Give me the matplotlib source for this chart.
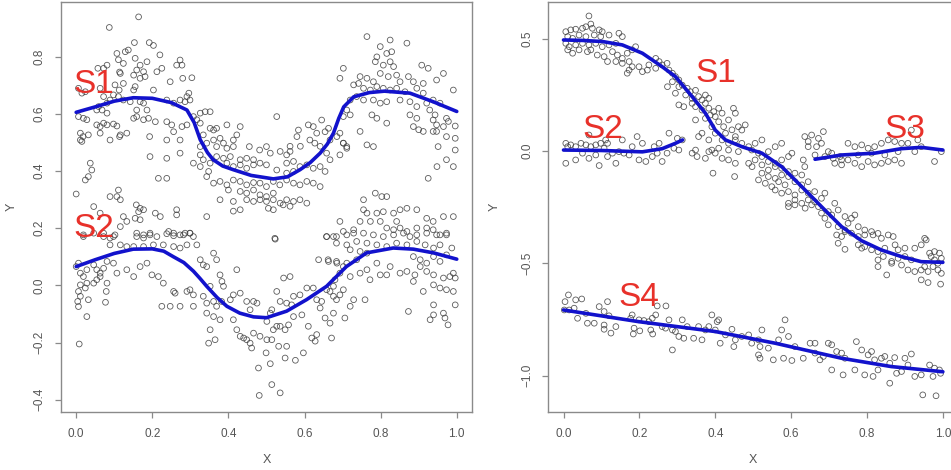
import numpy as np
import matplotlib
matplotlib.use("Agg")
import matplotlib.pyplot as plt

plt.rcParams['font.family'] = ['Liberation Sans', 'DejaVu Sans']

left_s1_pts = [
    (0.164, 0.94), (0.087, 0.903), (0.153, 0.85), (0.192, 0.85), (0.203, 0.84), (0.107, 0.812), (0.129, 0.818),
    (0.137, 0.824), (0.22, 0.807), (0.111, 0.79), (0.124, 0.777), (0.155, 0.795), (0.168, 0.771), (0.186, 0.783),
    (0.273, 0.789), (0.278, 0.771), (0.081, 0.771), (0.072, 0.76), (0.057, 0.76), (0.114, 0.747), (0.116, 0.742),
    (0.159, 0.754), (0.177, 0.748), (0.181, 0.731), (0.212, 0.748), (0.225, 0.76), (0.151, 0.736), (0.168, 0.725),
    (0.264, 0.771), (0.28, 0.725), (0.304, 0.727), (0.124, 0.707), (0.102, 0.702), (0.113, 0.684), (0.203, 0.684),
    (0.006, 0.69), (0.015, 0.673), (0.024, 0.678), (0.063, 0.69), (0.072, 0.661), (0.155, 0.696), (0.151, 0.684),
    (0.247, 0.713), (0.296, 0.673), (0.299, 0.649), (0.291, 0.661), (0.098, 0.667), (0.111, 0.661), (0.089, 0.649),
    (0.081, 0.638), (0.124, 0.649), (0.142, 0.643), (0.168, 0.643), (0.177, 0.638), (0.059, 0.626), (0.068, 0.614),
    (0.081, 0.603), (0.238, 0.649), (0.256, 0.638), (0.273, 0.649), (0.286, 0.643), (0.054, 0.614), (0.159, 0.614),
    (0.186, 0.614), (0.326, 0.603), (0.339, 0.608), (0.352, 0.608), (0.006, 0.591), (0.019, 0.585), (0.028, 0.58),
    (0.151, 0.585), (0.159, 0.591), (0.177, 0.58), (0.19, 0.585), (0.208, 0.573), (0.238, 0.573), (0.251, 0.562),
    (0.308, 0.591), (0.317, 0.58), (0.326, 0.568), (0.054, 0.562), (0.063, 0.556), (0.072, 0.568), (0.081, 0.562),
    (0.098, 0.565), (0.107, 0.558), (0.278, 0.556), (0.291, 0.562), (0.011, 0.533), (0.018, 0.521), (0.032, 0.527),
    (0.116, 0.527), (0.133, 0.533), (0.063, 0.533), (0.256, 0.538), (0.238, 0.509), (0.273, 0.509), (0.011, 0.509),
    (0.015, 0.504), (0.089, 0.509), (0.114, 0.521), (0.193, 0.521), (0.352, 0.55), (0.361, 0.544), (0.369, 0.55),
    (0.396, 0.562), (0.431, 0.556), (0.527, 0.591), (0.584, 0.544), (0.61, 0.562), (0.623, 0.556), (0.645, 0.579),
    (0.663, 0.55), (0.632, 0.533), (0.654, 0.538), (0.58, 0.521), (0.562, 0.487), (0.589, 0.487), (0.614, 0.509),
    (0.627, 0.498), (0.641, 0.487), (0.667, 0.509), (0.685, 0.521), (0.693, 0.533), (0.702, 0.498), (0.711, 0.486),
    (0.693, 0.457), (0.658, 0.463), (0.667, 0.44), (0.334, 0.527), (0.343, 0.498), (0.326, 0.486), (0.361, 0.509),
    (0.378, 0.515), (0.369, 0.486), (0.387, 0.498), (0.396, 0.48), (0.413, 0.486), (0.422, 0.527), (0.413, 0.509),
    (0.455, 0.486), (0.482, 0.474), (0.5, 0.486), (0.51, 0.463), (0.536, 0.469), (0.553, 0.457), (0.562, 0.469),
    (0.326, 0.457), (0.334, 0.44), (0.352, 0.428), (0.369, 0.451), (0.387, 0.445), (0.405, 0.451), (0.431, 0.44),
    (0.448, 0.445), (0.466, 0.44), (0.273, 0.463), (0.238, 0.445), (0.194, 0.451), (0.308, 0.428), (0.326, 0.416),
    (0.348, 0.399), (0.396, 0.428), (0.413, 0.416), (0.431, 0.422), (0.448, 0.41), (0.466, 0.422), (0.483, 0.428),
    (0.5, 0.422), (0.553, 0.428), (0.571, 0.434), (0.588, 0.416), (0.606, 0.422), (0.623, 0.41), (0.641, 0.416),
    (0.654, 0.399), (0.527, 0.404), (0.553, 0.393), (0.571, 0.399), (0.037, 0.428), (0.041, 0.404), (0.032, 0.381),
    (0.024, 0.369), (0.238, 0.375), (0.343, 0.381), (0.361, 0.358), (0.378, 0.364), (0.396, 0.352), (0.413, 0.369),
    (0.431, 0.364), (0.448, 0.352), (0.466, 0.36), (0.483, 0.358), (0.5, 0.346), (0.518, 0.364), (0.535, 0.352),
    (0.553, 0.369), (0.571, 0.358), (0.588, 0.352), (0.606, 0.364), (0.623, 0.358), (0.641, 0.346), (0.4, 0.334),
    (0.431, 0.329), (0.448, 0.323), (0.466, 0.334), (0.483, 0.317), (0.5, 0.311), (0.518, 0.323), (0.378, 0.3),
    (0.413, 0.294), (0.448, 0.3), (0.466, 0.294), (0.483, 0.3), (0.5, 0.294), (0.518, 0.3), (0.536, 0.288),
    (0.553, 0.3), (0.571, 0.294), (0.588, 0.3), (0.606, 0.288), (0.413, 0.26), (0.431, 0.265), (0.505, 0.27),
    (0.518, 0.265), (0.544, 0.282), (0.562, 0.277), (0.0, 0.32), (0.216, 0.375),
    (0.764, 0.871), (0.799, 0.836), (0.825, 0.859), (0.79, 0.8), (0.816, 0.812), (0.829, 0.818), (0.869, 0.848),
    (0.908, 0.771), (0.925, 0.76), (0.786, 0.783), (0.807, 0.771), (0.825, 0.783), (0.834, 0.766), (0.702, 0.76),
    (0.693, 0.725), (0.746, 0.731), (0.764, 0.725), (0.781, 0.713), (0.799, 0.742), (0.82, 0.731), (0.842, 0.736),
    (0.851, 0.713), (0.873, 0.731), (0.886, 0.713), (0.912, 0.707), (0.947, 0.719), (0.965, 0.742), (0.729, 0.702),
    (0.742, 0.707), (0.755, 0.69), (0.773, 0.684), (0.79, 0.696), (0.807, 0.69), (0.825, 0.684), (0.842, 0.69),
    (0.864, 0.678), (0.895, 0.69), (0.912, 0.673), (0.991, 0.684), (0.72, 0.649), (0.737, 0.661), (0.755, 0.649),
    (0.781, 0.649), (0.799, 0.638), (0.816, 0.643), (0.851, 0.649), (0.877, 0.643), (0.895, 0.626), (0.921, 0.638),
    (0.938, 0.649), (0.956, 0.638), (0.711, 0.614), (0.702, 0.591), (0.72, 0.597), (0.777, 0.597), (0.79, 0.585),
    (0.929, 0.614), (0.943, 0.597), (0.938, 0.579), (0.895, 0.585), (0.877, 0.597), (0.973, 0.585), (0.947, 0.562),
    (0.965, 0.556), (0.978, 0.574), (0.816, 0.568), (0.886, 0.556), (0.9, 0.545), (0.912, 0.539), (0.938, 0.539),
    (0.947, 0.539), (0.996, 0.558), (0.996, 0.515), (0.973, 0.521), (0.996, 0.474), (0.973, 0.44), (0.991, 0.416),
    (0.951, 0.486), (0.948, 0.416), (0.925, 0.375), (0.746, 0.539), (0.764, 0.492), (0.781, 0.486), (0.711, 0.48),
    (0.702, 0.498),
]

left_s2_pts = [
    (0.111, 0.334), (0.089, 0.311), (0.107, 0.311), (0.116, 0.3), (0.158, 0.282), (0.168, 0.27), (0.177, 0.265),
    (0.164, 0.258), (0.208, 0.253), (0.221, 0.241), (0.264, 0.265), (0.264, 0.247), (0.155, 0.235), (0.168, 0.23),
    (0.046, 0.276), (0.063, 0.253), (0.124, 0.241), (0.133, 0.224), (0.116, 0.206), (0.343, 0.241), (0.755, 0.3),
    (0.786, 0.323), (0.803, 0.311), (0.816, 0.311), (0.755, 0.265), (0.764, 0.253), (0.79, 0.253), (0.807, 0.258),
    (0.834, 0.253), (0.851, 0.265), (0.869, 0.27), (0.895, 0.265), (0.693, 0.224), (0.746, 0.224), (0.773, 0.224),
    (0.799, 0.224), (0.842, 0.224), (0.921, 0.235), (0.938, 0.224), (0.965, 0.241), (0.991, 0.241), (0.658, 0.171),
    (0.676, 0.171), (0.702, 0.189), (0.729, 0.195), (0.755, 0.183), (0.816, 0.201), (0.834, 0.195), (0.851, 0.201),
    (0.869, 0.189), (0.895, 0.201), (0.921, 0.201), (0.938, 0.195), (0.956, 0.177), (0.973, 0.183), (0.159, 0.183),
    (0.177, 0.177), (0.194, 0.183), (0.243, 0.189), (0.256, 0.183), (0.273, 0.177), (0.286, 0.183), (0.299, 0.183),
    (0.072, 0.183), (0.098, 0.171), (0.019, 0.177), (0.522, 0.165), (0.159, 0.171), (0.177, 0.166), (0.194, 0.177),
    (0.212, 0.171), (0.238, 0.181), (0.256, 0.174), (0.282, 0.177), (0.299, 0.183), (0.308, 0.171), (0.019, 0.171),
    (0.046, 0.183), (0.072, 0.171), (0.089, 0.166), (0.102, 0.177), (0.089, 0.142), (0.116, 0.142), (0.133, 0.136),
    (0.151, 0.136), (0.177, 0.136), (0.203, 0.142), (0.229, 0.142), (0.256, 0.136), (0.273, 0.131), (0.291, 0.142),
    (0.317, 0.142), (0.658, 0.171), (0.684, 0.171), (0.711, 0.177), (0.729, 0.183), (0.781, 0.177), (0.807, 0.171),
    (0.834, 0.177), (0.86, 0.183), (0.877, 0.171), (0.895, 0.177), (0.921, 0.183), (0.947, 0.177), (0.973, 0.177),
    (0.684, 0.148), (0.711, 0.142), (0.737, 0.154), (0.764, 0.148), (0.79, 0.142), (0.816, 0.136), (0.842, 0.148),
    (0.869, 0.142), (0.895, 0.154), (0.917, 0.142), (0.939, 0.131), (0.956, 0.142), (0.987, 0.131), (0.523, 0.162),
    (0.72, 0.125), (0.746, 0.119), (0.764, 0.113), (0.886, 0.101), (0.904, 0.09), (0.921, 0.078), (0.939, 0.101),
    (0.956, 0.084), (0.973, 0.107), (0.662, 0.09), (0.684, 0.084), (0.711, 0.078), (0.737, 0.09), (0.79, 0.078),
    (0.825, 0.066), (0.851, 0.043), (0.869, 0.049), (0.89, 0.037), (0.764, 0.055), (0.799, 0.037), (0.816, 0.037),
    (0.772, 0.02), (0.904, 0.066), (0.921, 0.049), (0.939, 0.037), (0.965, 0.026), (0.982, 0.031), (0.991, 0.043),
    (0.996, 0.026), (0.886, 0.014), (0.912, -0.021), (0.939, 0.002), (0.956, -0.009), (0.973, -0.015),
    (0.991, -0.021), (0.996, -0.068), (0.939, -0.068), (0.93, -0.12), (0.939, -0.103), (0.965, -0.097),
    (0.969, -0.114), (0.977, -0.138), (0.873, -0.091), (0.759, -0.05), (0.0, 0.066), (0.006, 0.078), (0.011, 0.043),
    (0.019, 0.031), (0.028, 0.055), (0.046, 0.072), (0.054, 0.055), (0.063, 0.043), (0.072, 0.06), (0.081, 0.084),
    (0.098, 0.078), (0.107, 0.043), (0.063, 0.031), (0.054, 0.02), (0.028, 0.008), (0.011, 0.002), (0.046, 0.008),
    (0.006, -0.021), (0.011, -0.038), (0.024, -0.009), (0.032, -0.05), (0.004, -0.056), (0.006, -0.074),
    (0.028, -0.109), (0.081, 0.008), (0.079, -0.021), (0.077, -0.059), (0.008, -0.205), (0.151, 0.031),
    (0.133, 0.055), (0.168, 0.066), (0.186, 0.078), (0.199, 0.037), (0.216, 0.031), (0.229, 0.008), (0.256, -0.021),
    (0.26, -0.027), (0.291, -0.021), (0.299, -0.015), (0.308, -0.033), (0.225, -0.073), (0.247, -0.073),
    (0.273, -0.073), (0.308, -0.073), (0.326, 0.09), (0.334, 0.072), (0.343, 0.066), (0.369, 0.09), (0.361, 0.113),
    (0.378, 0.037), (0.383, 0.014), (0.387, -0.003), (0.352, -0.003), (0.334, -0.038), (0.343, -0.062),
    (0.361, -0.056), (0.369, -0.073), (0.382, -0.056), (0.405, -0.05), (0.413, -0.033), (0.343, -0.097),
    (0.361, -0.109), (0.378, -0.12), (0.352, -0.155), (0.365, -0.19), (0.348, -0.202), (0.422, 0.055),
    (0.431, -0.027), (0.448, -0.056), (0.457, -0.085), (0.466, -0.056), (0.475, -0.062), (0.413, -0.12),
    (0.422, -0.155), (0.431, -0.178), (0.44, -0.184), (0.448, -0.19), (0.457, -0.202), (0.461, -0.219),
    (0.466, -0.167), (0.483, -0.178), (0.501, -0.19), (0.514, -0.19), (0.518, -0.155), (0.527, -0.143),
    (0.501, -0.126), (0.51, -0.097), (0.514, -0.085), (0.479, -0.289), (0.481, -0.385), (0.499, -0.236),
    (0.51, -0.274), (0.514, -0.347), (0.536, -0.376), (0.532, -0.213), (0.549, -0.254), (0.576, -0.262),
    (0.553, -0.213), (0.536, -0.143), (0.549, -0.155), (0.558, -0.138), (0.571, -0.109), (0.527, -0.021),
    (0.545, 0.026), (0.562, 0.031), (0.536, -0.056), (0.553, -0.062), (0.566, -0.068), (0.571, -0.038),
    (0.588, -0.033), (0.593, -0.103), (0.61, -0.143), (0.619, -0.184), (0.628, -0.195), (0.632, -0.172),
    (0.597, -0.236), (0.606, -0.009), (0.623, -0.009), (0.632, -0.05), (0.645, -0.056), (0.658, -0.015),
    (0.667, -0.021), (0.641, -0.079), (0.654, -0.114), (0.667, -0.132), (0.676, -0.097), (0.671, -0.184),
    (0.706, -0.114), (0.72, -0.073), (0.729, -0.05), (0.676, -0.038), (0.684, -0.05), (0.693, -0.033),
    (0.702, -0.015), (0.676, -0.003), (0.68, 0.02), (0.637, 0.09), (0.663, 0.084), (0.685, 0.078), (0.702, 0.066),
    (0.693, 0.043), (0.72, 0.031), (0.746, 0.043),
]

# ---- right panel: observed points ----
right_s1_pts = [
    (0.067, 0.601), (0.006, 0.531), (0.019, 0.539), (0.032, 0.542), (0.05, 0.546), (0.059, 0.553), (0.072, 0.565),
    (0.076, 0.546), (0.094, 0.539), (0.102, 0.531), (0.011, 0.509), (0.024, 0.501), (0.041, 0.516), (0.059, 0.509),
    (0.081, 0.516), (0.098, 0.509), (0.12, 0.516), (0.146, 0.524), (0.155, 0.509), (0.006, 0.479), (0.015, 0.464),
    (0.032, 0.472), (0.05, 0.479), (0.067, 0.472), (0.085, 0.479), (0.102, 0.464), (0.12, 0.472), (0.138, 0.479),
    (0.011, 0.45), (0.024, 0.435), (0.041, 0.45), (0.063, 0.442), (0.072, 0.45), (0.089, 0.427), (0.107, 0.42),
    (0.129, 0.442), (0.142, 0.427), (0.155, 0.412), (0.168, 0.435), (0.181, 0.45), (0.19, 0.464), (0.116, 0.398),
    (0.138, 0.398), (0.155, 0.39), (0.173, 0.398), (0.181, 0.375), (0.168, 0.346), (0.173, 0.36), (0.199, 0.375),
    (0.208, 0.353), (0.221, 0.36), (0.225, 0.383), (0.243, 0.412), (0.252, 0.398), (0.26, 0.383), (0.273, 0.39),
    (0.243, 0.368), (0.278, 0.36), (0.287, 0.346), (0.295, 0.331), (0.304, 0.316), (0.287, 0.308), (0.274, 0.286),
    (0.304, 0.286), (0.313, 0.293), (0.326, 0.279), (0.334, 0.264), (0.348, 0.27), (0.295, 0.257), (0.322, 0.249),
    (0.339, 0.234), (0.356, 0.242), (0.374, 0.249), (0.383, 0.234), (0.365, 0.227), (0.304, 0.205), (0.317, 0.197),
    (0.339, 0.212), (0.348, 0.197), (0.374, 0.212), (0.365, 0.182), (0.383, 0.19), (0.396, 0.175), (0.409, 0.19),
    (0.387, 0.16), (0.4, 0.153), (0.418, 0.168), (0.448, 0.19), (0.453, 0.168), (0.435, 0.138), (0.409, 0.13),
    (0.422, 0.108), (0.444, 0.094), (0.461, 0.108), (0.391, 0.108), (0.4, 0.079), (0.427, 0.079), (0.453, 0.064),
    (0.47, 0.093), (0.479, 0.116), (0.348, 0.138), (0.374, 0.145), (0.356, 0.064), (0.365, 0.079), (0.383, 0.049),
    (0.348, 0.004), (0.418, 0.049), (0.435, 0.034), (0.453, 0.049), (0.47, 0.034), (0.488, 0.019), (0.505, 0.034),
    (0.523, 0.049), (0.409, 0.012), (0.435, 0.004), (0.461, -0.003), (0.496, 0.004), (0.514, -0.01), (0.54, -0.003),
    (0.558, 0.019), (0.575, 0.034), (0.391, 0.004), (0.4, -0.01), (0.418, -0.033), (0.435, -0.04), (0.453, -0.055),
    (0.394, -0.099), (0.451, -0.114), (0.488, -0.055), (0.505, -0.04), (0.523, -0.025), (0.54, -0.047),
    (0.558, -0.055), (0.575, -0.04), (0.593, -0.025), (0.602, -0.01), (0.497, -0.07), (0.523, -0.062),
    (0.54, -0.085), (0.558, -0.07), (0.575, -0.077), (0.593, -0.092), (0.523, -0.099), (0.54, -0.114),
    (0.558, -0.122), (0.575, -0.107), (0.593, -0.114), (0.61, -0.099), (0.628, -0.107), (0.514, -0.129),
    (0.532, -0.144), (0.549, -0.159), (0.567, -0.137), (0.584, -0.151), (0.61, -0.137), (0.628, -0.151),
    (0.645, -0.137), (0.558, -0.174), (0.575, -0.188), (0.593, -0.181), (0.61, -0.196), (0.628, -0.174),
    (0.645, -0.188), (0.662, -0.181), (0.593, -0.233), (0.61, -0.218), (0.628, -0.233), (0.645, -0.218),
    (0.662, -0.226), (0.68, -0.211), (0.689, -0.188), (0.593, -0.248), (0.61, -0.24), (0.637, -0.255),
    (0.654, -0.24), (0.672, -0.248), (0.68, -0.277), (0.698, -0.27), (0.689, -0.3), (0.707, -0.285),
    (0.715, -0.233), (0.724, -0.263), (0.742, -0.292), (0.759, -0.3), (0.768, -0.285), (0.698, -0.329),
    (0.724, -0.337), (0.742, -0.352), (0.75, -0.322), (0.777, -0.337), (0.794, -0.352), (0.812, -0.359),
    (0.829, -0.367), (0.72, -0.374), (0.733, -0.381), (0.856, -0.374), (0.952, -0.389), (0.742, -0.359),
    (0.759, -0.366), (0.777, -0.381), (0.794, -0.374), (0.816, -0.374), (0.838, -0.389), (0.869, -0.381),
    (0.724, -0.411), (0.742, -0.438), (0.777, -0.418), (0.786, -0.433), (0.794, -0.426), (0.812, -0.44),
    (0.829, -0.448), (0.847, -0.433), (0.874, -0.418), (0.882, -0.44), (0.9, -0.433), (0.926, -0.433),
    (0.943, -0.418), (0.956, -0.396), (0.965, -0.455), (0.978, -0.448), (0.991, -0.455), (0.829, -0.485),
    (0.843, -0.47), (0.865, -0.492), (0.882, -0.478), (0.9, -0.47), (0.917, -0.485), (0.829, -0.515),
    (0.865, -0.5), (0.891, -0.508), (0.908, -0.53), (0.926, -0.537), (0.943, -0.53), (0.952, -0.515),
    (0.969, -0.47), (0.978, -0.485), (0.987, -0.5), (0.996, -0.478), (0.974, -0.515), (0.987, -0.53),
    (0.996, -0.545), (0.961, -0.537), (0.852, -0.552), (0.943, -0.574), (0.961, -0.586), (0.994, -0.593),
    (0.339, -0.01), (0.352, -0.025), (0.374, -0.033), (0.383, -0.003),
]

right_s2_pts = [
    (0.006, 0.034), (0.011, 0.019), (0.019, 0.027), (0.032, 0.019), (0.046, 0.034), (0.059, 0.027), (0.072, 0.019),
    (0.085, 0.027), (0.098, 0.034), (0.107, 0.012), (0.116, 0.034), (0.006, -0.055), (0.032, -0.04), (0.05, -0.01),
    (0.067, -0.033), (0.085, -0.018), (0.094, -0.065), (0.116, -0.025), (0.138, -0.055), (0.129, -0.01),
    (0.146, -0.003), (0.159, -0.01), (0.173, -0.018), (0.194, 0.064), (0.199, -0.04), (0.217, -0.047),
    (0.234, -0.025), (0.247, -0.01), (0.239, 0.019), (0.252, 0.034), (0.26, -0.047), (0.273, -0.01), (0.278, 0.079),
    (0.291, 0.012), (0.304, 0.004), (0.313, 0.049), (0.3, 0.056), (0.181, 0.019), (0.208, 0.034), (0.155, 0.049),
    (0.111, 0.049), (0.067, 0.071),
]

right_s3_pts = [
    (0.636, 0.064), (0.645, 0.042), (0.654, 0.071), (0.672, 0.056), (0.685, 0.086), (0.68, 0.034), (0.667, 0.019),
    (0.645, 0.019), (0.632, -0.04), (0.636, -0.07), (0.663, -0.018), (0.689, -0.025), (0.707, -0.01),
    (0.715, -0.055), (0.733, -0.062), (0.733, -0.04), (0.75, 0.034), (0.768, 0.019), (0.786, 0.027), (0.803, 0.012),
    (0.82, 0.019), (0.838, 0.034), (0.856, 0.049), (0.873, 0.042), (0.891, 0.034), (0.75, -0.04), (0.768, -0.055),
    (0.786, -0.07), (0.803, -0.047), (0.82, -0.062), (0.838, -0.055), (0.856, -0.047), (0.873, -0.04),
    (0.891, -0.055), (0.917, 0.093), (0.908, 0.034), (0.926, -0.003), (0.943, 0.019), (0.978, -0.047),
    (0.996, -0.003), (0.934, 0.049), (0.777, -0.018), (0.812, -0.01), (0.847, -0.018), (0.882, -0.003),
    (0.698, -0.003), (0.711, -0.033), (0.729, -0.025),
]

right_s4_pts = [
    (0.004, -0.671), (0.013, -0.641), (0.032, -0.663), (0.048, -0.659), (0.002, -0.708), (0.015, -0.708),
    (0.028, -0.7), (0.037, -0.745), (0.059, -0.723), (0.063, -0.767), (0.081, -0.767), (0.094, -0.693),
    (0.107, -0.715), (0.107, -0.775), (0.107, -0.794), (0.116, -0.671), (0.12, -0.734), (0.125, -0.811),
    (0.138, -0.782), (0.177, -0.745), (0.181, -0.73), (0.186, -0.789), (0.184, -0.815), (0.199, -0.752),
    (0.201, -0.801), (0.212, -0.755), (0.225, -0.76), (0.23, -0.797), (0.234, -0.745), (0.235, -0.815),
    (0.243, -0.73), (0.247, -0.69), (0.27, -0.69), (0.26, -0.782), (0.269, -0.789), (0.278, -0.752),
    (0.287, -0.797), (0.295, -0.804), (0.304, -0.826), (0.287, -0.886), (0.313, -0.752), (0.317, -0.834),
    (0.326, -0.782), (0.343, -0.834), (0.356, -0.782), (0.365, -0.841), (0.374, -0.797), (0.383, -0.782),
    (0.391, -0.73), (0.4, -0.797), (0.405, -0.76), (0.409, -0.752), (0.413, -0.856), (0.427, -0.819),
    (0.444, -0.794), (0.449, -0.871), (0.453, -0.841), (0.47, -0.826), (0.488, -0.819), (0.496, -0.856),
    (0.514, -0.841), (0.518, -0.871), (0.514, -0.908), (0.518, -0.923), (0.523, -0.797), (0.54, -0.878),
    (0.553, -0.93), (0.567, -0.841), (0.575, -0.797), (0.584, -0.752), (0.58, -0.923), (0.593, -0.826),
    (0.602, -0.933), (0.61, -0.871), (0.632, -0.923), (0.65, -0.856), (0.663, -0.856), (0.663, -0.9),
    (0.676, -0.93), (0.685, -0.915), (0.698, -0.856), (0.707, -0.863), (0.707, -0.975), (0.72, -0.893),
    (0.733, -0.9), (0.737, -0.997), (0.742, -0.923), (0.772, -0.849), (0.768, -0.975), (0.786, -0.886),
    (0.794, -0.997), (0.803, -0.908), (0.812, -0.893), (0.816, -1.004), (0.82, -0.93), (0.829, -0.975),
    (0.838, -0.923), (0.847, -0.915), (0.86, -0.945), (0.86, -1.034), (0.873, -0.92), (0.878, -0.99),
    (0.891, -0.982), (0.9, -0.923), (0.908, -0.953), (0.917, -0.904), (0.926, -1.004), (0.943, -0.997),
    (0.947, -1.086), (0.965, -0.953), (0.974, -1.004), (0.978, -0.967), (0.982, -1.09), (0.991, -0.975),
    (0.994, -0.99),
]

# ---- fitted curves (x, y) ----
left_s1_fit = [
    (0.0, 0.606), (0.05, 0.625), (0.1, 0.645), (0.15, 0.657), (0.2, 0.655), (0.25, 0.64), (0.291, 0.614),
    (0.31, 0.57), (0.326, 0.51), (0.345, 0.465), (0.36, 0.44), (0.385, 0.418), (0.413, 0.405), (0.46, 0.385),
    (0.518, 0.373), (0.555, 0.38), (0.588, 0.405), (0.615, 0.43), (0.641, 0.463), (0.66, 0.495), (0.676, 0.533),
    (0.69, 0.585), (0.703, 0.625), (0.729, 0.66), (0.77, 0.675), (0.81, 0.68), (0.877, 0.673), (0.938, 0.643),
    (1.0, 0.609),
]
left_s2_fit = [
    (0.0, 0.066), (0.05, 0.09), (0.1, 0.112), (0.15, 0.127), (0.2, 0.128), (0.23, 0.12), (0.256, 0.1),
    (0.283, 0.08), (0.308, 0.05), (0.325, 0.025), (0.343, -0.003), (0.37, -0.042), (0.396, -0.073),
    (0.43, -0.097), (0.466, -0.11), (0.5, -0.113), (0.553, -0.09), (0.605, -0.05), (0.658, -0.003),
    (0.71, 0.066), (0.763, 0.114), (0.833, 0.131), (0.886, 0.127), (0.939, 0.114), (1.0, 0.092),
]
right_s1_fit = [
    (0.0, 0.494), (0.05, 0.492), (0.103, 0.487), (0.155, 0.472), (0.208, 0.435), (0.26, 0.375), (0.295, 0.331),
    (0.339, 0.242), (0.374, 0.168), (0.4, 0.093), (0.427, 0.049), (0.47, 0.019), (0.523, -0.01), (0.575, -0.07),
    (0.628, -0.159), (0.68, -0.248), (0.733, -0.337), (0.786, -0.4), (0.838, -0.441), (0.89, -0.47),
    (0.943, -0.493), (1.0, -0.496),
]
right_s2_fit = [(0.0, 0.004), (0.1, 0.002), (0.208, -0.004), (0.26, 0.01), (0.295, 0.034), (0.314, 0.049)]
right_s3_fit = [(0.663, -0.037), (0.733, -0.018), (0.82, -0.01), (0.89, 0.01), (0.943, 0.016), (1.0, 0.004)]
right_s4_fit = [
    (0.0, -0.708), (0.198, -0.76), (0.4, -0.804), (0.558, -0.856), (0.733, -0.923), (0.864, -0.96),
    (1.0, -0.983),
]

x_ticks = [0.0, 0.2, 0.4, 0.6, 0.8, 1.0]
left_y_ticks = [-0.4, -0.2, 0.0, 0.2, 0.4, 0.6, 0.8]
right_y_ticks = [-1.0, -0.5, 0.0, 0.5]

PT_COLOR = '#3f3f3f'
FIT_COLOR = '#1212cc'
LBL_COLOR = '#e8312a'
AX_COLOR = '#8a8a8a'
TXT_COLOR = '#555555'


def fmt(v):
    return ('%.1f' % v).replace('-', '\u2212')


def style_axes(ax, yticks, xlim, ylim):
    ax.set_xlim(*xlim)
    ax.set_ylim(*ylim)
    for s in ax.spines.values():
        s.set_color(AX_COLOR)
        s.set_linewidth(1.0)
    ax.set_xticks(x_ticks)
    ax.set_xticklabels([fmt(v) for v in x_ticks])
    ax.set_yticks(yticks)
    ax.set_yticklabels([fmt(v) for v in yticks], rotation=90, va='center')
    ax.tick_params(direction='out', length=4, width=0.9, color=AX_COLOR,
                   labelcolor=TXT_COLOR, labelsize=8.5)
    ax.tick_params(axis='x', pad=8)
    ax.tick_params(axis='y', pad=7)
    ax.set_xlabel('X', fontsize=9, color=TXT_COLOR)
    ax.xaxis.set_label_coords(0.5, -0.118)
    ax.xaxis.label.set_va('center')
    ax.set_ylabel('Y', fontsize=9, color=TXT_COLOR)
    ax.yaxis.label.set_va('center')


def draw_points(ax, pts):
    a = np.array(pts)
    ax.scatter(a[:, 0], a[:, 1], s=17, facecolors='none', edgecolors=PT_COLOR,
               linewidths=0.6, alpha=0.85, zorder=2)


def draw_fit(ax, pts):
    a = np.array(pts)
    ax.plot(a[:, 0], a[:, 1], color=FIT_COLOR, linewidth=2.6, solid_capstyle='round', zorder=3)


fig = plt.figure(figsize=(9.51, 4.70), dpi=100)
ax1 = fig.add_axes([0.0641, 0.124, 0.4322, 0.8717])
ax2 = fig.add_axes([0.5766, 0.124, 0.4308, 0.8717])

# Left panel
draw_points(ax1, left_s1_pts)
draw_points(ax1, left_s2_pts)
draw_fit(ax1, left_s1_fit)
draw_fit(ax1, left_s2_fit)
style_axes(ax1, left_y_ticks, (-0.04, 1.04), (-0.442, 0.992))
ax1.yaxis.set_label_coords(-0.12, 0.5)
ax1.text(-0.008, 0.702, 'S1', fontsize=24, color=LBL_COLOR, ha='left', va='center', zorder=4)
ax1.text(-0.008, 0.198, 'S2', fontsize=24, color=LBL_COLOR, ha='left', va='center', zorder=4)

# Right panel
for pts in (right_s1_pts, right_s2_pts, right_s3_pts, right_s4_pts):
    draw_points(ax2, pts)
for fit in (right_s1_fit, right_s2_fit, right_s3_fit, right_s4_fit):
    draw_fit(ax2, fit)
style_axes(ax2, right_y_ticks, (-0.04, 1.04), (-1.161, 0.663))
ax2.yaxis.set_label_coords(-0.13, 0.5)
ax2.text(0.348, 0.343, 'S1', fontsize=24, color=LBL_COLOR, ha='left', va='center', zorder=4)
ax2.text(0.05, 0.094, 'S2', fontsize=24, color=LBL_COLOR, ha='left', va='center', zorder=4)
ax2.text(0.847, 0.094, 'S3', fontsize=24, color=LBL_COLOR, ha='left', va='center', zorder=4)
ax2.text(0.146, -0.652, 'S4', fontsize=24, color=LBL_COLOR, ha='left', va='center', zorder=4)

fig.savefig('out.png', dpi=100)
